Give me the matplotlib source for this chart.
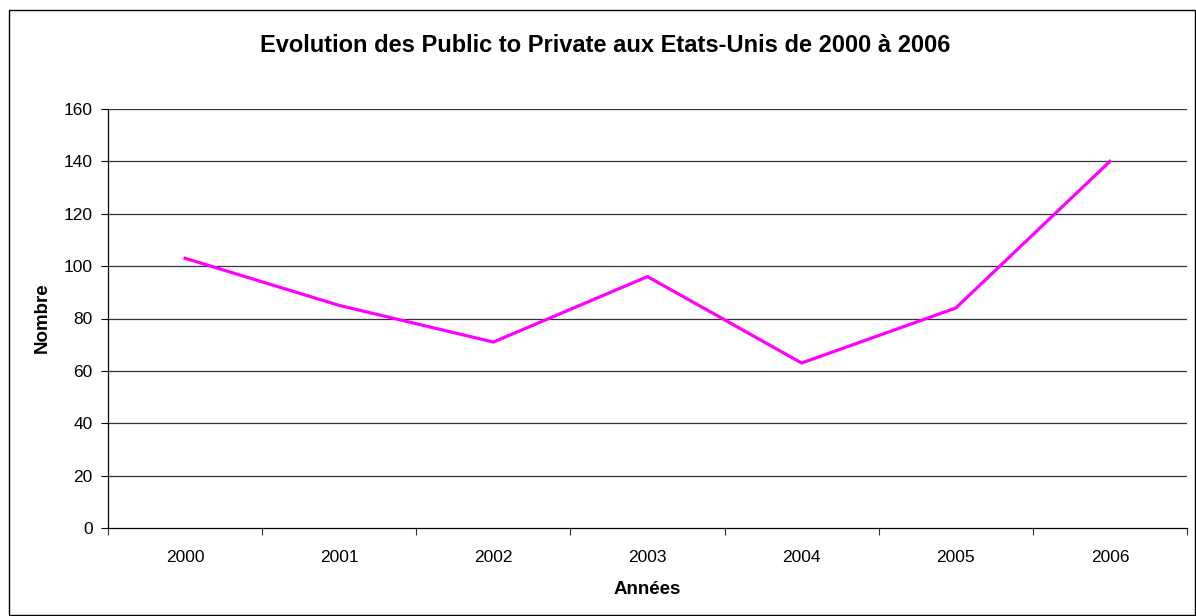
import numpy as np
import matplotlib
matplotlib.use('Agg')
import matplotlib.pyplot as plt
from matplotlib.patches import Rectangle

plt.rcParams['font.family'] = ['Liberation Sans', 'DejaVu Sans']

years = ['2000', '2001', '2002', '2003', '2004', '2005', '2006']
counts = [103, 85, 71, 96, 63, 84, 140]
y_ticks = [0, 20, 40, 60, 80, 100, 120, 140, 160]

W, H = 1196, 616
fig = plt.figure(figsize=(W / 100, H / 100), dpi=100)
ax = fig.add_axes([108 / W, 1 - 528 / H, (1187 - 108) / W, (528 - 109) / H])

x = np.arange(len(years)) + 0.5
ax.plot(x, counts, color='#FF00FF', linewidth=2.3, zorder=3)

ax.set_xlim(0, len(years))
ax.set_ylim(0, 160)
ax.set_yticks(y_ticks)
ax.set_yticklabels([str(v) for v in y_ticks], fontsize=12.5)
ax.set_xticks(np.arange(len(years) + 1))
ax.set_xticklabels([])
ax.set_xticks(x, minor=True)
ax.set_xticklabels(years, minor=True, fontsize=12.5)
ax.tick_params(axis='x', which='minor', length=0, pad=16)
ax.tick_params(axis='x', which='major', length=5, color='#333333')
ax.tick_params(axis='y', length=5, pad=6)

for v in y_ticks[1:]:
    ax.axhline(v, color='#333333', linewidth=0.9, zorder=1)

for s in ['top', 'right']:
    ax.spines[s].set_visible(False)
ax.spines['left'].set_linewidth(0.9)
ax.spines['bottom'].set_linewidth(0.9)

# axis titles and chart title placed in figure pixels
fig.text(647.5 / W, 1 - 590 / H, 'Années', ha='center', va='center',
         fontsize=13.5, fontweight='bold')
fig.text(42 / W, 1 - 318 / H, 'Nombre', ha='center', va='center',
         rotation=90, fontsize=13.5, fontweight='bold')
fig.text(605 / W, 1 - 46 / H, 'Evolution des Public to Private aux Etats-Unis de 2000 à 2006',
         ha='center', va='center', fontsize=17, fontweight='bold')

fig.patches.append(Rectangle((9 / W, 1 / H), 1 - 10 / W, 1 - 11 / H,
                             transform=fig.transFigure, fill=False,
                             edgecolor='black', linewidth=1))

fig.savefig('out.png', dpi=100)
